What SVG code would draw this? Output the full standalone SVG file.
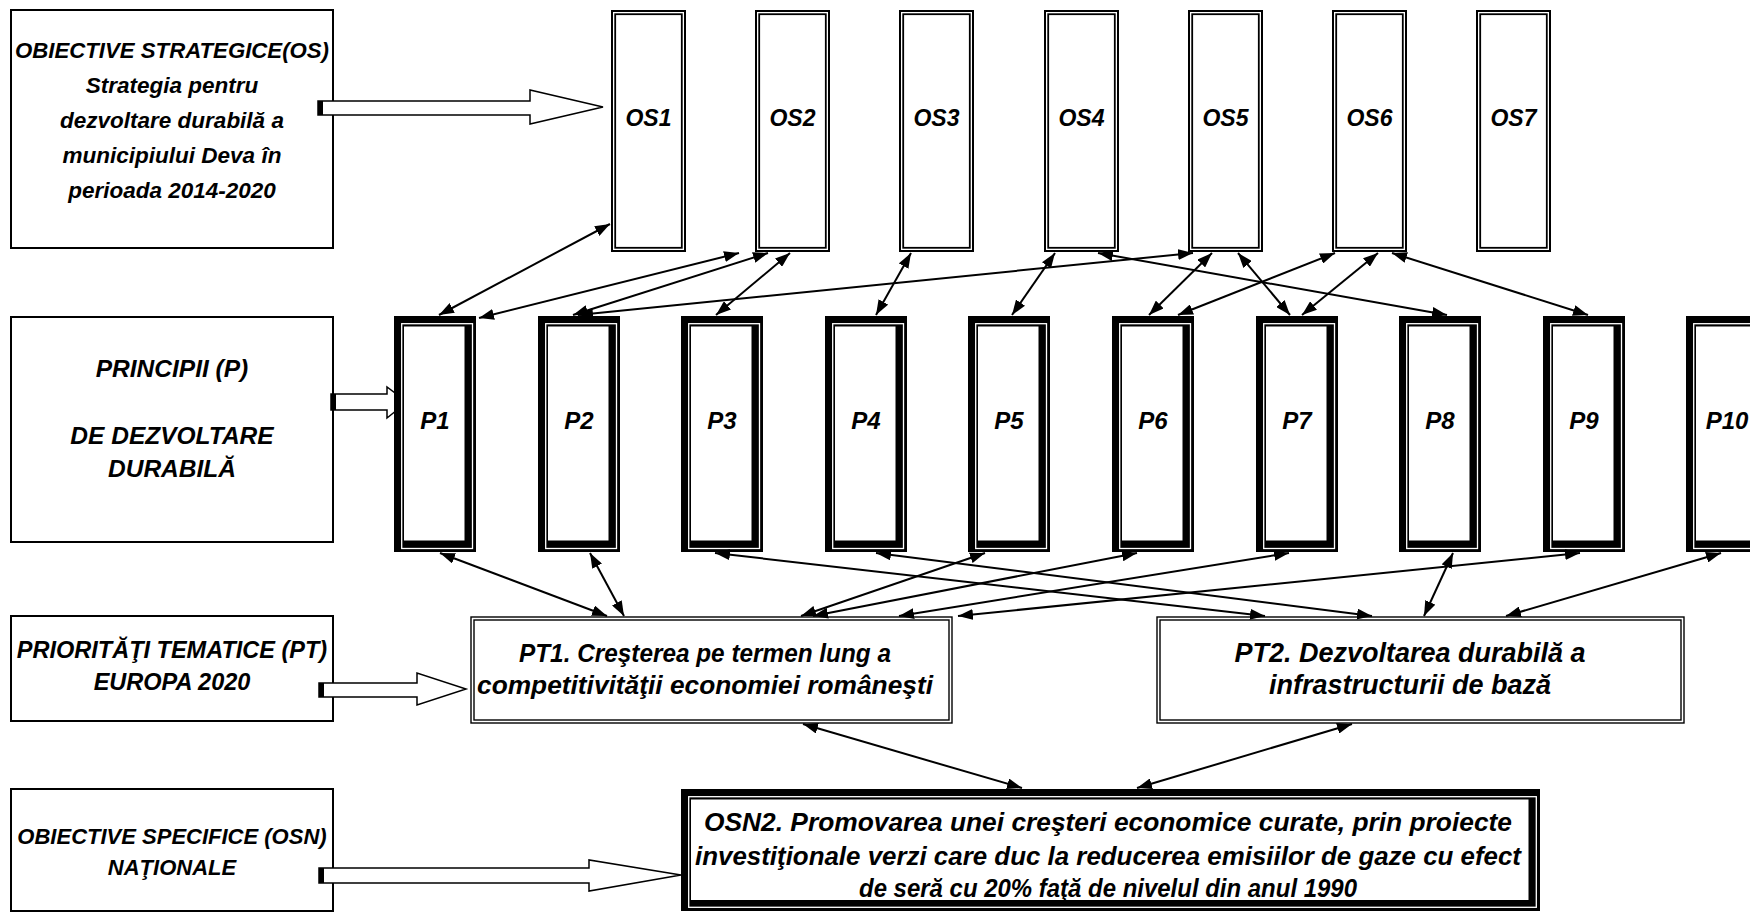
<svg xmlns="http://www.w3.org/2000/svg" xmlns:xlink="http://www.w3.org/1999/xlink" width="1750" height="914" viewBox="0 0 1750 914">
<style>
text{font-family:"Liberation Sans",Arial,sans-serif;font-weight:bold;font-style:italic;fill:#000;text-anchor:middle}
.lbl{fill:#fff;stroke:#000;stroke-width:2}
.os-o{fill:#fff;stroke:#000;stroke-width:2}
.os-i{fill:none;stroke:#000;stroke-width:1.8}
.pt-o{fill:#fff;stroke:#000;stroke-width:1.4}
.pt-i{fill:none;stroke:#000;stroke-width:1.4}
.pf-b{fill:#000}
.pf-l{fill:none;stroke:#fff;stroke-width:1.3}
.pf-w{fill:#fff}
.blk{fill:#fff;stroke:#000;stroke-width:1.5;stroke-linejoin:miter}
.bar{fill:#000}
.con line{stroke:#000;stroke-width:2;marker-start:url(#ah);marker-end:url(#ah)}
</style>
<defs>
<marker id="ah" viewBox="0 0 15 11" refX="15" refY="5.5" markerWidth="15" markerHeight="11" orient="auto-start-reverse" markerUnits="userSpaceOnUse">
<path d="M0,0 L15,5.5 L0,11 z" fill="#000"/>
</marker>
<g id="pframe">
<rect class="pf-b" x="0" y="0" width="82" height="236"/>
<rect class="pf-l" x="7.7" y="7.7" width="70.8" height="224.8"/>
<rect class="pf-w" x="10" y="10.5" width="60.5" height="214"/>
</g>
<g id="osframe">
<rect class="os-o" x="1" y="1" width="73" height="240"/>
<rect class="os-i" x="4.2" y="4.2" width="66.6" height="233.6"/>
</g>
</defs>

<g id="label-os">
<rect class="lbl" x="11" y="10" width="322" height="238"/>
<text x="172" y="58" font-size="22.5" textLength="314" lengthAdjust="spacingAndGlyphs">OBIECTIVE STRATEGICE(OS)</text>
<text x="172" y="93" font-size="22.5">Strategia pentru</text>
<text x="172" y="128" font-size="22.5">dezvoltare durabilă a</text>
<text x="172" y="163" font-size="22.5">municipiului Deva în</text>
<text x="172" y="198" font-size="22.5">perioada 2014-2020</text>
</g>
<g id="label-p">
<rect class="lbl" x="11" y="317" width="322" height="225"/>
<text x="172" y="377" font-size="24.5">PRINCIPII (P)</text>
<text x="172" y="444" font-size="24.5">DE DEZVOLTARE</text>
<text x="172" y="477" font-size="24.5">DURABILĂ</text>
</g>
<g id="label-pt">
<rect class="lbl" x="11" y="616" width="322" height="105"/>
<text x="172" y="658" font-size="23.5">PRIORITĂŢI TEMATICE (PT)</text>
<text x="172" y="690" font-size="23.5">EUROPA 2020</text>
</g>
<g id="label-osn">
<rect class="lbl" x="11" y="789" width="322" height="122"/>
<text x="172" y="844" font-size="22">OBIECTIVE SPECIFICE (OSN)</text>
<text x="172" y="875" font-size="22">NAŢIONALE</text>
</g>

<g id="block-arrows">
<polygon class="blk" points="318,101 530,101 530,90 603,107 530,124 530,115 318,115"/>
<rect class="bar" x="318" y="101" width="5" height="14"/>
<polygon class="blk" points="331,394 387,394 387,387 407,402 387,418 387,410 331,410"/>
<rect class="bar" x="331" y="394" width="5" height="16"/>
<polygon class="blk" points="319,683 417,683 417,673 466,689 417,705 417,697 319,697"/>
<rect class="bar" x="319" y="683" width="5" height="14"/>
<polygon class="blk" points="319,868 589,868 589,860 681,875 589,891 589,883 319,883"/>
<rect class="bar" x="319" y="868" width="5" height="15"/>
</g>

<g id="OS1"><use xlink:href="#osframe" x="611" y="10"/><text x="648.5" y="126" font-size="23">OS1</text></g>
<g id="OS2"><use xlink:href="#osframe" x="755" y="10"/><text x="792.5" y="126" font-size="23">OS2</text></g>
<g id="OS3"><use xlink:href="#osframe" x="899" y="10"/><text x="936.5" y="126" font-size="23">OS3</text></g>
<g id="OS4"><use xlink:href="#osframe" x="1044" y="10"/><text x="1081.5" y="126" font-size="23">OS4</text></g>
<g id="OS5"><use xlink:href="#osframe" x="1188" y="10"/><text x="1225.5" y="126" font-size="23">OS5</text></g>
<g id="OS6"><use xlink:href="#osframe" x="1332" y="10"/><text x="1369.5" y="126" font-size="23">OS6</text></g>
<g id="OS7"><use xlink:href="#osframe" x="1476" y="10"/><text x="1513.5" y="126" font-size="23">OS7</text></g>

<g id="P1"><use xlink:href="#pframe" x="394" y="316"/><text x="435" y="429" font-size="24">P1</text></g>
<g id="P2"><use xlink:href="#pframe" x="538" y="316"/><text x="579" y="429" font-size="24">P2</text></g>
<g id="P3"><use xlink:href="#pframe" x="681" y="316"/><text x="722" y="429" font-size="24">P3</text></g>
<g id="P4"><use xlink:href="#pframe" x="825" y="316"/><text x="866" y="429" font-size="24">P4</text></g>
<g id="P5"><use xlink:href="#pframe" x="968" y="316"/><text x="1009" y="429" font-size="24">P5</text></g>
<g id="P6"><use xlink:href="#pframe" x="1112" y="316"/><text x="1153" y="429" font-size="24">P6</text></g>
<g id="P7"><use xlink:href="#pframe" x="1256" y="316"/><text x="1297" y="429" font-size="24">P7</text></g>
<g id="P8"><use xlink:href="#pframe" x="1399" y="316"/><text x="1440" y="429" font-size="24">P8</text></g>
<g id="P9"><use xlink:href="#pframe" x="1543" y="316"/><text x="1584" y="429" font-size="24">P9</text></g>
<g id="P10"><use xlink:href="#pframe" x="1686" y="316"/><text x="1727" y="429" font-size="24">P10</text></g>

<g id="PT1">
<rect class="pt-o" x="471" y="617" width="481" height="106"/>
<rect class="pt-i" x="474" y="620" width="475" height="100"/>
<text x="705" y="662" font-size="25.5" textLength="372" lengthAdjust="spacingAndGlyphs">PT1. Creşterea pe termen lung a</text>
<text x="705" y="694" font-size="25.5" textLength="456" lengthAdjust="spacingAndGlyphs">competitivităţii economiei româneşti</text>
</g>
<g id="PT2">
<rect class="pt-o" x="1157" y="617" width="527" height="106"/>
<rect class="pt-i" x="1160" y="620" width="521" height="100"/>
<text x="1410" y="662" font-size="27">PT2. Dezvoltarea durabilă a</text>
<text x="1410" y="694" font-size="27">infrastructurii de bază</text>
</g>
<g id="OSN2">
<rect class="pf-b" x="681" y="789" width="859" height="122"/>
<rect class="pf-l" x="688.7" y="796.7" width="847.6" height="110.6"/>
<rect class="pf-w" x="691" y="799.5" width="837.5" height="100.5"/>
<text x="1108" y="831" font-size="25" textLength="808" lengthAdjust="spacingAndGlyphs">OSN2. Promovarea unei creşteri economice curate, prin proiecte</text>
<text x="1108" y="865" font-size="25" textLength="826" lengthAdjust="spacingAndGlyphs">investiţionale verzi care duc la reducerea emisiilor de gaze cu efect</text>
<text x="1108" y="897" font-size="25" textLength="498" lengthAdjust="spacingAndGlyphs">de seră cu 20% faţă de nivelul din anul 1990</text>
</g>

<g id="connectors" class="con">
<line x1="610" y1="224" x2="439" y2="315"/>
<line x1="739" y1="253" x2="479" y2="318"/>
<line x1="768" y1="253" x2="573" y2="315"/>
<line x1="1193" y1="253" x2="578" y2="315"/>
<line x1="790" y1="253" x2="716" y2="315"/>
<line x1="911" y1="253" x2="876" y2="315"/>
<line x1="1055" y1="253" x2="1012" y2="315"/>
<line x1="1098" y1="253" x2="1447" y2="315"/>
<line x1="1212" y1="253" x2="1149" y2="315"/>
<line x1="1238" y1="253" x2="1290" y2="315"/>
<line x1="1335" y1="253" x2="1178" y2="315"/>
<line x1="1378" y1="253" x2="1302" y2="315"/>
<line x1="1392" y1="253" x2="1588" y2="315"/>
<line x1="440" y1="553" x2="607" y2="616"/>
<line x1="590" y1="553" x2="624" y2="616"/>
<line x1="715" y1="553" x2="1265" y2="616"/>
<line x1="876" y1="553" x2="1372" y2="616"/>
<line x1="985" y1="553" x2="801" y2="616"/>
<line x1="1137" y1="553" x2="813" y2="616"/>
<line x1="1289" y1="553" x2="899" y2="616"/>
<line x1="1453" y1="553" x2="1424" y2="616"/>
<line x1="1580" y1="553" x2="958" y2="616"/>
<line x1="1721" y1="553" x2="1506" y2="616"/>
<line x1="803" y1="724" x2="1022" y2="788"/>
<line x1="1352" y1="724" x2="1137" y2="788"/>
</g>
</svg>
